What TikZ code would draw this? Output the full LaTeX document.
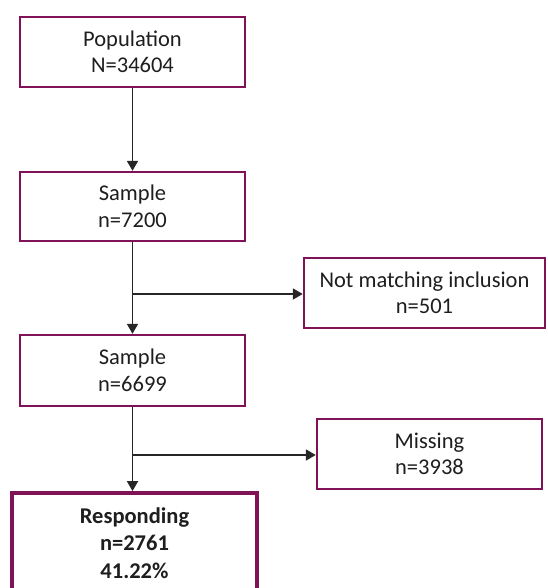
\documentclass[tikz,border=0pt]{standalone}
\usepackage{fontspec}
\setmainfont{Carlito}
\usetikzlibrary{arrows.meta}
\definecolor{boxc}{RGB}{128,18,88}
\definecolor{txt}{RGB}{30,30,30}
\tikzset{
  box/.style={draw=boxc, line width=2.4pt, rectangle, align=center, text=txt,
    font=\fontsize{22.5}{26.5}\selectfont, inner sep=0pt},
  bigbox/.style={draw=boxc, line width=3.8pt, rectangle, align=center, text=txt,
    font=\fontsize{22.5}{27.5}\selectfont\bfseries, inner sep=0pt},
  conn/.style={draw=black!85, line width=1.8pt},
  arr/.style={conn, -{Triangle[length=10pt,width=11pt]}}
}
\begin{document}
\begin{tikzpicture}[x=1pt,y=-1pt]
\useasboundingbox (0,0) rectangle (547,588);
\node[box, minimum width=225pt, minimum height=70pt] (pop) at (132.5,52) {Population\\N=34604};
\node[box, minimum width=225pt, minimum height=69pt] (s1) at (132.5,206.5) {Sample\\n=7200};
\node[box, minimum width=241pt, minimum height=70pt] (nm) at (424.5,293) {Not matching inclusion\\n=501};
\node[box, minimum width=225pt, minimum height=71pt] (s2) at (132.5,370.5) {Sample\\n=6699};
\node[box, minimum width=225pt, minimum height=70pt] (mis) at (429.5,454) {Missing\\n=3938};
\node[bigbox, minimum width=245pt, minimum height=100pt] (resp) at (134.5,543) {Responding\\n=2761\\41.22\%};
\coordinate (b1) at (132.5,294);
\coordinate (b2) at (132.5,455);
\draw[arr] (pop.south) -- (s1.north);
\draw[arr] (s1.south) -- (s2.north);
\draw[arr] (b1) -- (b1 -| nm.west);
\draw[arr] (s2.south) -- (s2.south |- resp.north);
\draw[arr] (b2) -- (b2 -| mis.west);
\end{tikzpicture}
\end{document}
